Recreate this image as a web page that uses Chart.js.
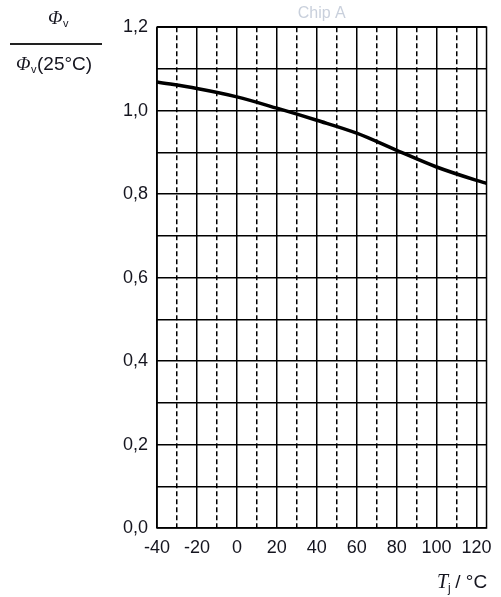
<!DOCTYPE html>
<html>
<head>
<meta charset="utf-8">
<script src="https://cdn.jsdelivr.net/npm/chart.js@4"></script>
<style>
  html, body { margin: 0; padding: 0; background: #fff; }
  #wrap { position: relative; width: 501px; height: 597px; }
</style>
</head>
<body>
<div id="wrap"><canvas id="chart"></canvas></div>
<script>
// junction temperature (°C) and relative luminous flux
const temperatures = [-40, -20, 0, 20, 40, 60, 80, 100, 120, 125];
const fluxRatio = [1.069, 1.053, 1.033, 1.006, 0.977, 0.946, 0.905, 0.865, 0.833, 0.826];

// axis ticks
const xMajorTicks = [-40, -20, 0, 20, 40, 60, 80, 100, 120];
const xMinorTicks = [-30, -10, 10, 30, 50, 70, 90, 110];
const yTicks = [0, 0.1, 0.2, 0.3, 0.4, 0.5, 0.6, 0.7, 0.8, 0.9, 1.0, 1.1, 1.2];

const X_MIN = -40, X_MAX = 125;
const textColor = '#15151f';
const sansFont = '"Liberation Sans", Arial, sans-serif';

// frame round the plot area plus the hand-set labels
const decorations = {
  id: 'decorations',
  afterDraw(chart) {
    const { ctx, chartArea } = chart;
    ctx.save();
    ctx.strokeStyle = '#000';
    ctx.lineWidth = 1.5;
    ctx.strokeRect(chartArea.left, chartArea.top, chartArea.right - chartArea.left, chartArea.bottom - chartArea.top);

    ctx.fillStyle = textColor;
    ctx.textBaseline = 'alphabetic';
    ctx.textAlign = 'left';

    // y label as fraction: Φv / Φv(25°C)
    ctx.font = 'italic 19px "Liberation Serif", serif';
    ctx.fillText('Φ', 48, 24);
    ctx.font = '11px ' + sansFont;
    ctx.fillText('v', 63, 27);

    ctx.fillStyle = '#222';
    ctx.fillRect(10, 43, 92, 2);
    ctx.fillStyle = textColor;

    ctx.font = 'italic 19px "Liberation Serif", serif';
    ctx.fillText('Φ', 16, 70);
    ctx.font = '11px ' + sansFont;
    ctx.fillText('v', 31, 73);
    ctx.font = '19px ' + sansFont;
    ctx.fillText('(25°C)', 37, 70);

    // x label: Tj / °C
    ctx.font = 'italic 20px "Liberation Serif", serif';
    ctx.fillText('T', 437, 588);
    ctx.font = '12px ' + sansFont;
    ctx.fillText('j', 448, 592);
    ctx.font = '19px ' + sansFont;
    ctx.fillText(' / °C', 450, 588);
    ctx.restore();
  }
};

new Chart(document.getElementById('chart'), {
  type: 'line',
  data: {
    labels: temperatures,
    datasets: [{
      data: temperatures.map((t, i) => ({ x: t, y: fluxRatio[i] })),
      borderColor: '#000',
      borderWidth: 3.5,
      pointRadius: 0,
      cubicInterpolationMode: 'monotone',
      xAxisID: 'x',
      yAxisID: 'y'
    }]
  },
  options: {
    responsive: true,
    maintainAspectRatio: false,
    animation: false,
    layout: { padding: { left: 0, right: 8, top: 0, bottom: 0 } },
    plugins: {
      legend: { display: false },
      tooltip: { enabled: false },
      title: {
        display: true,
        fullSize: false,
        text: 'Chip A',
        color: '#c9d0dc',
        font: { family: sansFont, size: 16, weight: 'normal' },
        padding: { top: 4, bottom: 4 }
      }
    },
    scales: {
      x: {
        type: 'linear',
        position: 'bottom',
        min: X_MIN,
        max: X_MAX,
        afterBuildTicks: axis => { axis.ticks = xMajorTicks.map(v => ({ value: v })); },
        afterFit: axis => { axis.height = 69; },
        ticks: {
          color: textColor,
          font: { family: sansFont, size: 18 },
          padding: 9,
          maxRotation: 0,
          autoSkip: false
        },
        grid: { color: '#000', lineWidth: 1.5, drawTicks: false },
        border: { display: false }
      },
      xm: {
        type: 'linear',
        position: 'bottom',
        min: X_MIN,
        max: X_MAX,
        afterBuildTicks: axis => { axis.ticks = xMinorTicks.map(v => ({ value: v })); },
        afterFit: axis => { axis.height = 0; },
        ticks: { display: false },
        grid: { color: '#000', lineWidth: 1.5, drawTicks: false },
        border: { display: false, dash: [5, 3] }
      },
      y: {
        min: 0,
        max: 1.2,
        afterBuildTicks: axis => { axis.ticks = yTicks.map(v => ({ value: v })); },
        afterFit: axis => { axis.width = 157; },
        ticks: {
          color: textColor,
          font: { family: sansFont, size: 18 },
          padding: 9,
          autoSkip: false,
          callback: v => (Math.round(v * 10) % 2 === 0 ? v.toFixed(1).replace('.', ',') : '')
        },
        grid: { color: '#000', lineWidth: 1.5, drawTicks: false },
        border: { display: false }
      }
    }
  },
  plugins: [decorations]
});
</script>
</body>
</html>
